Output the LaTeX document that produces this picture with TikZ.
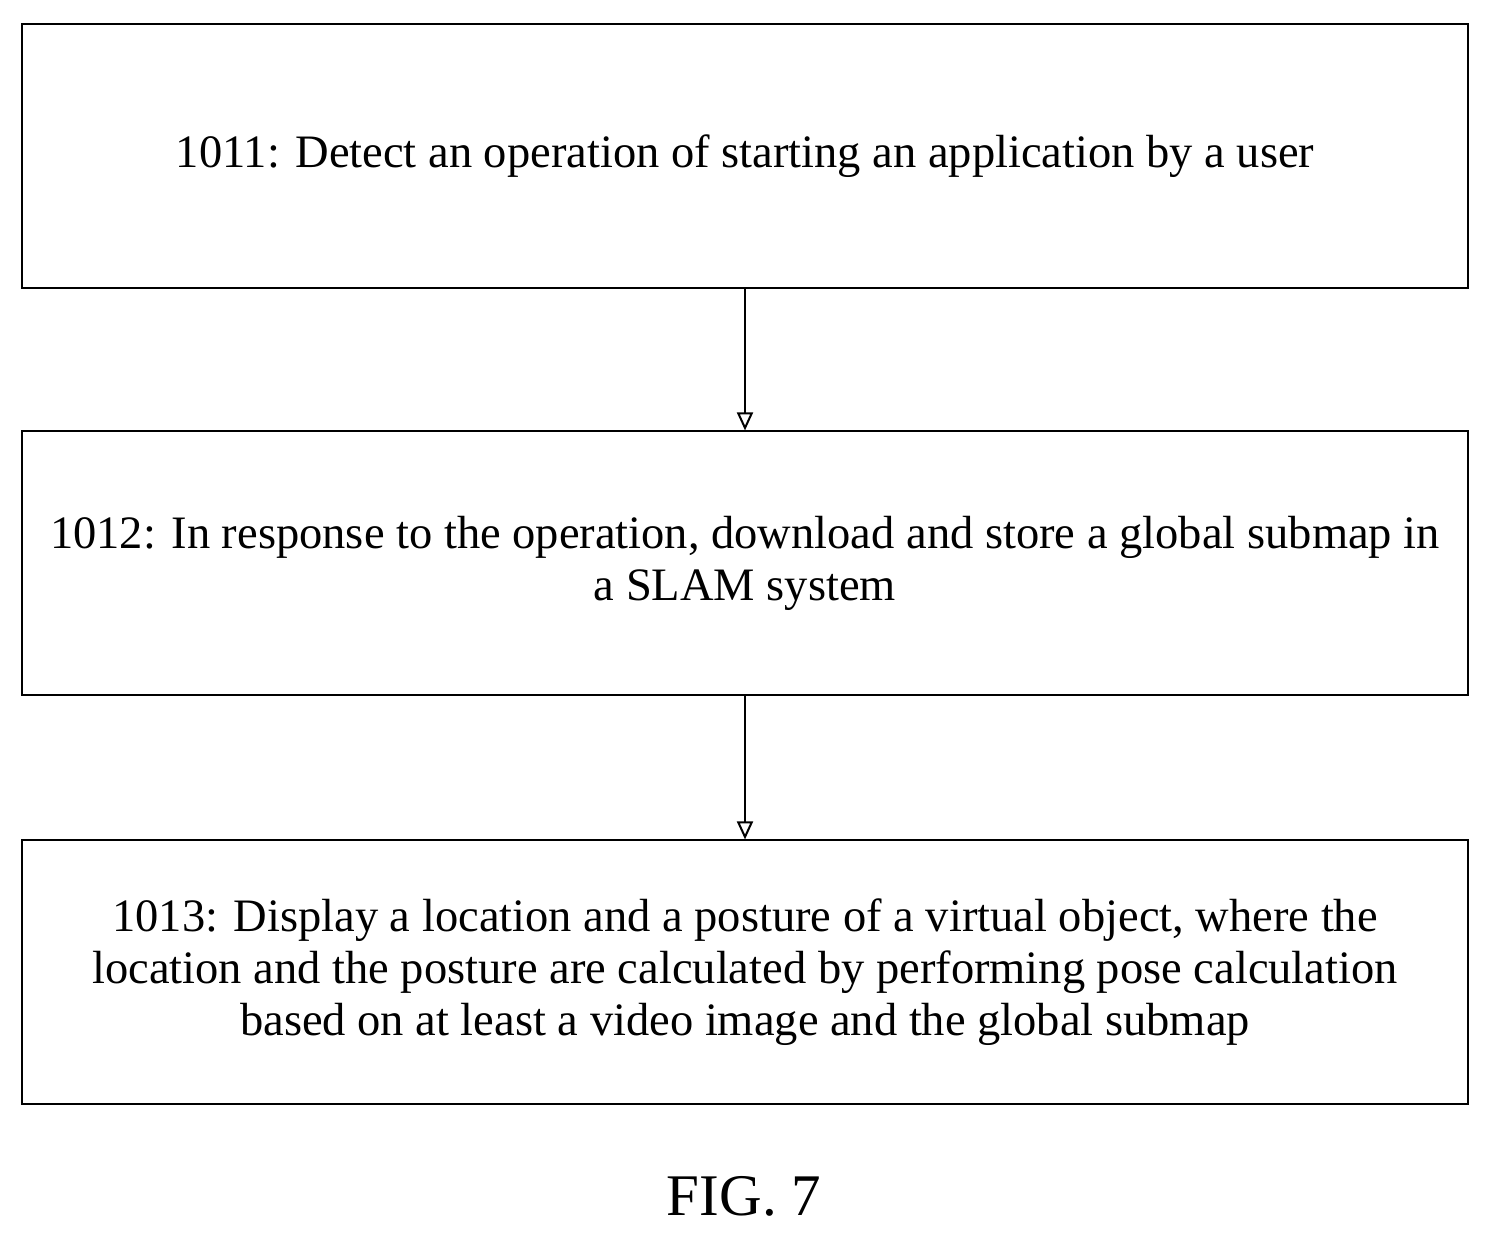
\documentclass[tikz,border=0pt]{standalone}
\usepackage{fontspec}
\setmainfont{Liberation Serif}
\usetikzlibrary{arrows.meta}
\begin{document}
\begin{tikzpicture}[x=1pt,y=-1pt,
  box/.style={draw,line width=1.2pt,minimum width=1446pt,minimum height=264pt,align=center,inner sep=0pt,font=\fontsize{46.5}{52}\selectfont},
  arr/.style={line width=1.2pt,-{Triangle[length=18pt,width=16pt,open,line width=2pt]}}]
\useasboundingbox (0,0) rectangle (1489,1236);
\node[box] (a) at (745,156) {1011: Detect an operation of starting an application by a user};
\node[box] (b) at (745,563) {1012: In response to the operation, download and store a global submap in\\a SLAM system};
\node[box] (c) at (745,972) {1013: Display a location and a posture of a virtual object, where the\\location and the posture are calculated by performing pose calculation\\based on at least a video image and the global submap};
\draw[arr] (a) -- (b);
\draw[arr] (b) -- (c);
\node[font=\fontsize{59}{66}\selectfont] (f) at (744,1196) {FIG. 7};
\end{tikzpicture}
\end{document}
